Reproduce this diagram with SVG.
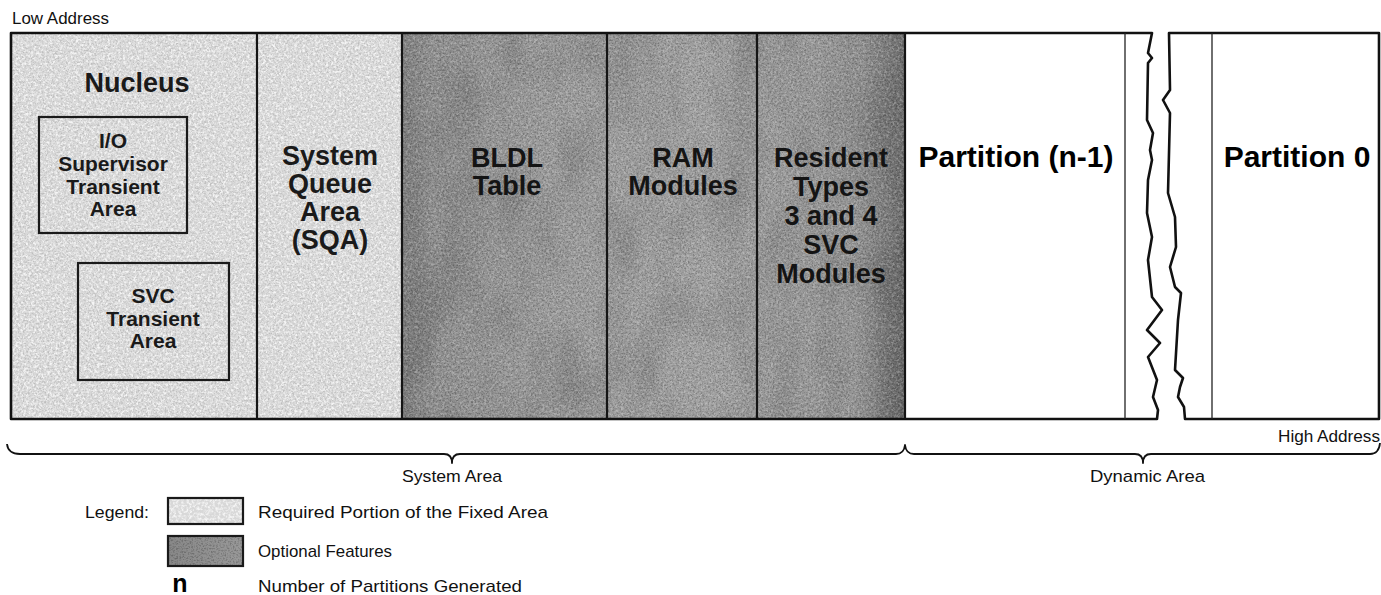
<svg xmlns="http://www.w3.org/2000/svg" width="1381" height="595" viewBox="0 0 1381 595">
  <defs>
    <filter id="speckW" x="0" y="0" width="1" height="1">
      <feTurbulence type="fractalNoise" baseFrequency="0.38" numOctaves="3" seed="7" result="n"/>
      <feColorMatrix in="n" type="matrix" values="0 0 0 0 1  0 0 0 0 1  0 0 0 0 1  3.2 0 0 0 -1.35"/>
    </filter>
    <filter id="speckK" x="0" y="0" width="1" height="1">
      <feTurbulence type="fractalNoise" baseFrequency="0.6" numOctaves="2" seed="21" result="n"/>
      <feColorMatrix in="n" type="matrix" values="0 0 0 0 0  0 0 0 0 0  0 0 0 0 0  0 3.2 0 0 -1.45"/>
    </filter>
    <filter id="mottle" x="0" y="0" width="1" height="1">
      <feTurbulence type="fractalNoise" baseFrequency="0.025 0.012" numOctaves="2" seed="4" result="n"/>
      <feColorMatrix in="n" type="matrix" values="0 0 0 0 0  0 0 0 0 0  0 0 0 0 0  2 0 0 0 -0.8"/>
    </filter>
    <linearGradient id="darkH" x1="402" y1="0" x2="905" y2="0" gradientUnits="userSpaceOnUse">
      <stop offset="0" stop-color="#7e7e7e"/>
      <stop offset="0.06" stop-color="#8e8e8e"/>
      <stop offset="0.3" stop-color="#9a9a9a"/>
      <stop offset="0.6" stop-color="#a0a0a0"/>
      <stop offset="0.9" stop-color="#949494"/>
      <stop offset="1" stop-color="#6a6a6a"/>
    </linearGradient>
    <linearGradient id="darkSw" x1="0" y1="0" x2="1" y2="0">
      <stop offset="0" stop-color="#888888"/>
      <stop offset="1" stop-color="#999999"/>
    </linearGradient>
  </defs>
  <style>
    .lbl { font-family: "Liberation Sans", Arial, sans-serif; font-size: 17px; fill: #111; }
    .big { font-family: "Liberation Sans", Arial, sans-serif; font-weight: bold; font-size: 27px; fill: #1a1a1a; text-anchor: middle; }
    .mid { font-family: "Liberation Sans", Arial, sans-serif; font-weight: bold; font-size: 21px; fill: #1a1a1a; text-anchor: middle; }
    .drk { fill: #141414; }
    .part { font-family: "Liberation Sans", Arial, sans-serif; font-weight: bold; font-size: 30px; fill: #000; text-anchor: middle; }
    .edge { fill: none; stroke: #111; stroke-width: 2.6; stroke-linejoin: round; }
    .div { stroke: #151515; stroke-width: 2.2; }
    .thin { stroke: #222; stroke-width: 1.3; }
    .box { fill: none; stroke: #1a1a1a; stroke-width: 2.2; }
    .brace { fill: none; stroke: #111; stroke-width: 1.8; stroke-linejoin: round; }
  </style>

  <!-- textures -->
  <g id="textures">
    <rect x="11" y="33" width="391" height="386" fill="#d8d8d8"/>
    <rect x="11" y="33" width="391" height="386" filter="url(#speckW)" opacity="0.75"/>
    <rect x="11" y="33" width="391" height="386" filter="url(#speckK)" opacity="0.12"/>
    <rect x="402" y="33" width="503" height="386" fill="url(#darkH)"/>
    <rect x="402" y="33" width="503" height="386" filter="url(#mottle)" opacity="0.14"/>
    <rect x="402" y="33" width="503" height="386" filter="url(#speckW)" opacity="0.25"/>
    <rect x="402" y="33" width="503" height="386" filter="url(#speckK)" opacity="0.22"/>
  </g>

  <g id="nucleus">
    <text class="big" x="137" y="92">Nucleus</text>
  </g>
  <g id="io-supervisor">
    <rect class="box" x="39" y="117" width="148" height="116"/>
    <text class="mid" x="113" y="148">I/O</text>
    <text class="mid" x="113" y="171">Supervisor</text>
    <text class="mid" x="113" y="194">Transient</text>
    <text class="mid" x="113" y="216">Area</text>
  </g>
  <g id="svc-transient">
    <rect class="box" x="78" y="263" width="151" height="117"/>
    <text class="mid" x="153" y="303">SVC</text>
    <text class="mid" x="153" y="326">Transient</text>
    <text class="mid" x="153" y="348">Area</text>
  </g>
  <g id="sqa">
    <text class="big" x="330" y="165">System</text>
    <text class="big" x="330" y="193">Queue</text>
    <text class="big" x="330" y="221">Area</text>
    <text class="big" x="330" y="249">(SQA)</text>
  </g>
  <g id="bldl">
    <text class="big drk" x="507" y="167">BLDL</text>
    <text class="big drk" x="507" y="195">Table</text>
  </g>
  <g id="ram">
    <text class="big drk" x="683" y="167">RAM</text>
    <text class="big drk" x="683" y="195">Modules</text>
  </g>
  <g id="resident">
    <text class="big drk" x="831" y="167">Resident</text>
    <text class="big drk" x="831" y="196">Types</text>
    <text class="big drk" x="831" y="225">3 and 4</text>
    <text class="big drk" x="831" y="254">SVC</text>
    <text class="big drk" x="831" y="283">Modules</text>
  </g>
  <g id="partition-n-1">
    <text class="part" x="1016" y="167">Partition (n-1)</text>
  </g>
  <g id="partition-0">
    <text class="part" x="1297" y="167">Partition 0</text>
  </g>

  <!-- outlines -->
  <g id="outlines">
    <path class="edge" d="M 1152 33 H 11 V 419 H 1157 L 1158 410 L 1153 397 L 1157 380 L 1148 357 L 1160 343 L 1147 330 L 1162 310 L 1152 297 L 1148 260 L 1152 237 L 1147 213 L 1148 180 L 1152 160 L 1150 150 L 1153 133 L 1147 120 L 1148 63 L 1152 58 L 1148 53 Z"/>
    <path class="edge" d="M 1169 33 H 1379 V 419 H 1185 L 1184 407 L 1178 397 L 1180 387 L 1183 378 L 1175 370 L 1178 320 L 1181 293 L 1175 287 L 1170 267 L 1176 247 L 1175 217 L 1168 193 L 1170 113 L 1163 100 L 1170 90 Z"/>
    <line class="div" x1="257" y1="33" x2="257" y2="419"/>
    <line class="div" x1="402" y1="33" x2="402" y2="419"/>
    <line class="div" x1="607" y1="33" x2="607" y2="419"/>
    <line class="div" x1="757" y1="33" x2="757" y2="419"/>
    <line class="div" x1="905" y1="33" x2="905" y2="419"/>
    <line class="thin" x1="1125" y1="33" x2="1125" y2="419"/>
    <line class="thin" x1="1212" y1="33" x2="1212" y2="419"/>
  </g>

  <g id="connectors">
    <path class="brace" d="M 7 444 Q 8 454 20 454 H 444 Q 452 454 452 463 Q 452 454 460 454 H 896 Q 904 454 905 445 Q 906 454 914 454 H 1135 Q 1143 454 1143 463 Q 1143 454 1151 454 H 1370 Q 1379 454 1380 443"/>
  </g>

  <g id="labels">
    <text class="lbl" x="12" y="24" textLength="97" lengthAdjust="spacingAndGlyphs">Low Address</text>
    <text class="lbl" x="1278" y="442" textLength="102" lengthAdjust="spacingAndGlyphs">High Address</text>
    <text class="lbl" x="402" y="482" textLength="100" lengthAdjust="spacingAndGlyphs">System Area</text>
    <text class="lbl" x="1090" y="482" textLength="115" lengthAdjust="spacingAndGlyphs">Dynamic Area</text>
  </g>

  <g id="legend">
    <text class="lbl" x="85" y="518" textLength="64" lengthAdjust="spacingAndGlyphs">Legend:</text>
    <rect x="168" y="498" width="75" height="26" fill="#d8d8d8"/>
    <rect x="168" y="498" width="75" height="26" filter="url(#speckW)" opacity="0.75"/>
    <rect x="168" y="498" width="75" height="26" class="box"/>
    <text class="lbl" x="258" y="518" textLength="290" lengthAdjust="spacingAndGlyphs">Required Portion of the Fixed Area</text>
    <rect x="168" y="536" width="75" height="30" fill="url(#darkSw)"/>
    <rect x="168" y="536" width="75" height="30" filter="url(#speckK)" opacity="0.22"/>
    <rect x="168" y="536" width="75" height="30" class="box"/>
    <text class="lbl" x="258" y="557" textLength="134" lengthAdjust="spacingAndGlyphs">Optional Features</text>
    <text x="180" y="592" text-anchor="middle" style="font-family: 'Liberation Sans', Arial, sans-serif; font-weight: bold; font-size: 25px; fill: #000;">n</text>
    <text class="lbl" x="258" y="592" textLength="264" lengthAdjust="spacingAndGlyphs">Number of Partitions Generated</text>
  </g>
</svg>
